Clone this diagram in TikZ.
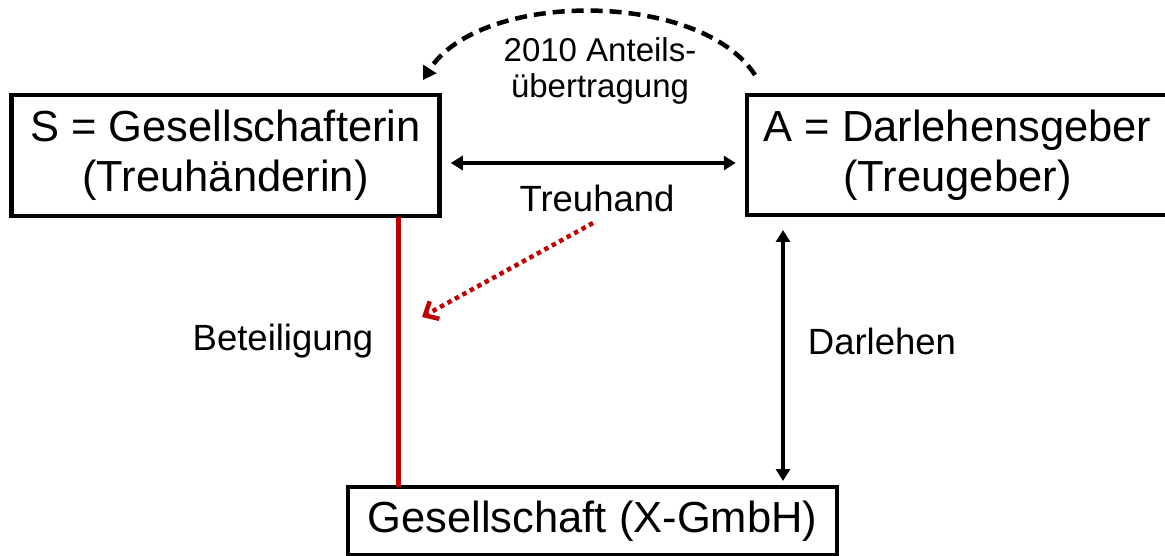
\documentclass[tikz,border=0pt]{standalone}
\usepackage{fontspec}
\setmainfont{Liberation Sans}
\usetikzlibrary{arrows.meta}
\definecolor{dred}{RGB}{192,0,0}
\begin{document}
\begin{tikzpicture}[x=1pt,y=-1pt,
  box/.style={draw=black,line width=4.5pt,fill=white,inner sep=0pt,align=center,
    font=\fontsize{43.5}{50}\selectfont},
  lbl/.style={inner sep=0pt,align=center,font=\fontsize{36.5}{40}\selectfont},
  tip/.style={-{Triangle[length=13pt,width=15pt]}},
  dtip/.style={{Triangle[length=12pt,width=14pt]}-{Triangle[length=12pt,width=14pt]}}]
\useasboundingbox (0,0) rectangle (1165,556);
\node[box,minimum width=428pt,minimum height=121pt] (S) at (225.5,155.5) {S = Gesellschafterin\\(Treuhänderin)};
\node[box,minimum width=421pt,minimum height=120pt] (A) at (957.5,155) {A = Darlehensgeber\\(Treugeber)};
\node[box,minimum width=489pt,minimum height=68pt] (G) at (592.5,521) {Gesellschaft (X-GmbH)};
\node[inner sep=0pt,align=center,font=\fontsize{33}{38}\selectfont] (T1) at (600,50) {2010 Anteils-};
\node[inner sep=0pt,align=center,font=\fontsize{33}{38}\selectfont] (T2) at (600,89) {übertragung};
\node[lbl] (TH) at (597,198) {Treuhand};
\node[lbl] (BT) at (283,341) {Beteiligung};
\node[lbl] (DL) at (882,341) {Darlehen};
\coordinate (arcS) at (755,75);
\coordinate (arcE) at (423,80);
\coordinate (rdS) at (593,223);
\coordinate (rdE) at (422,317);
\draw[line width=4pt,dtip] (S.east |- 0,163) ++(9,0) -- ([xshift=-9pt]A.west |- 0,163);
\draw[line width=4.5pt,dash pattern=on 12pt off 7pt,tip] (arcS) .. controls (700,-10) and (480,-10) .. (arcE);
\draw[line width=5pt,dred] (398,217) -- (398,487);
\draw[line width=4.5pt,dred,dash pattern=on 4.5pt off 4pt,
  -{Straight Barb[length=11pt,width=20pt,line width=4.5pt]}] (rdS) -- (rdE);
\draw[line width=4pt,dtip] (783,230) -- (783,481);
\end{tikzpicture}
\end{document}
